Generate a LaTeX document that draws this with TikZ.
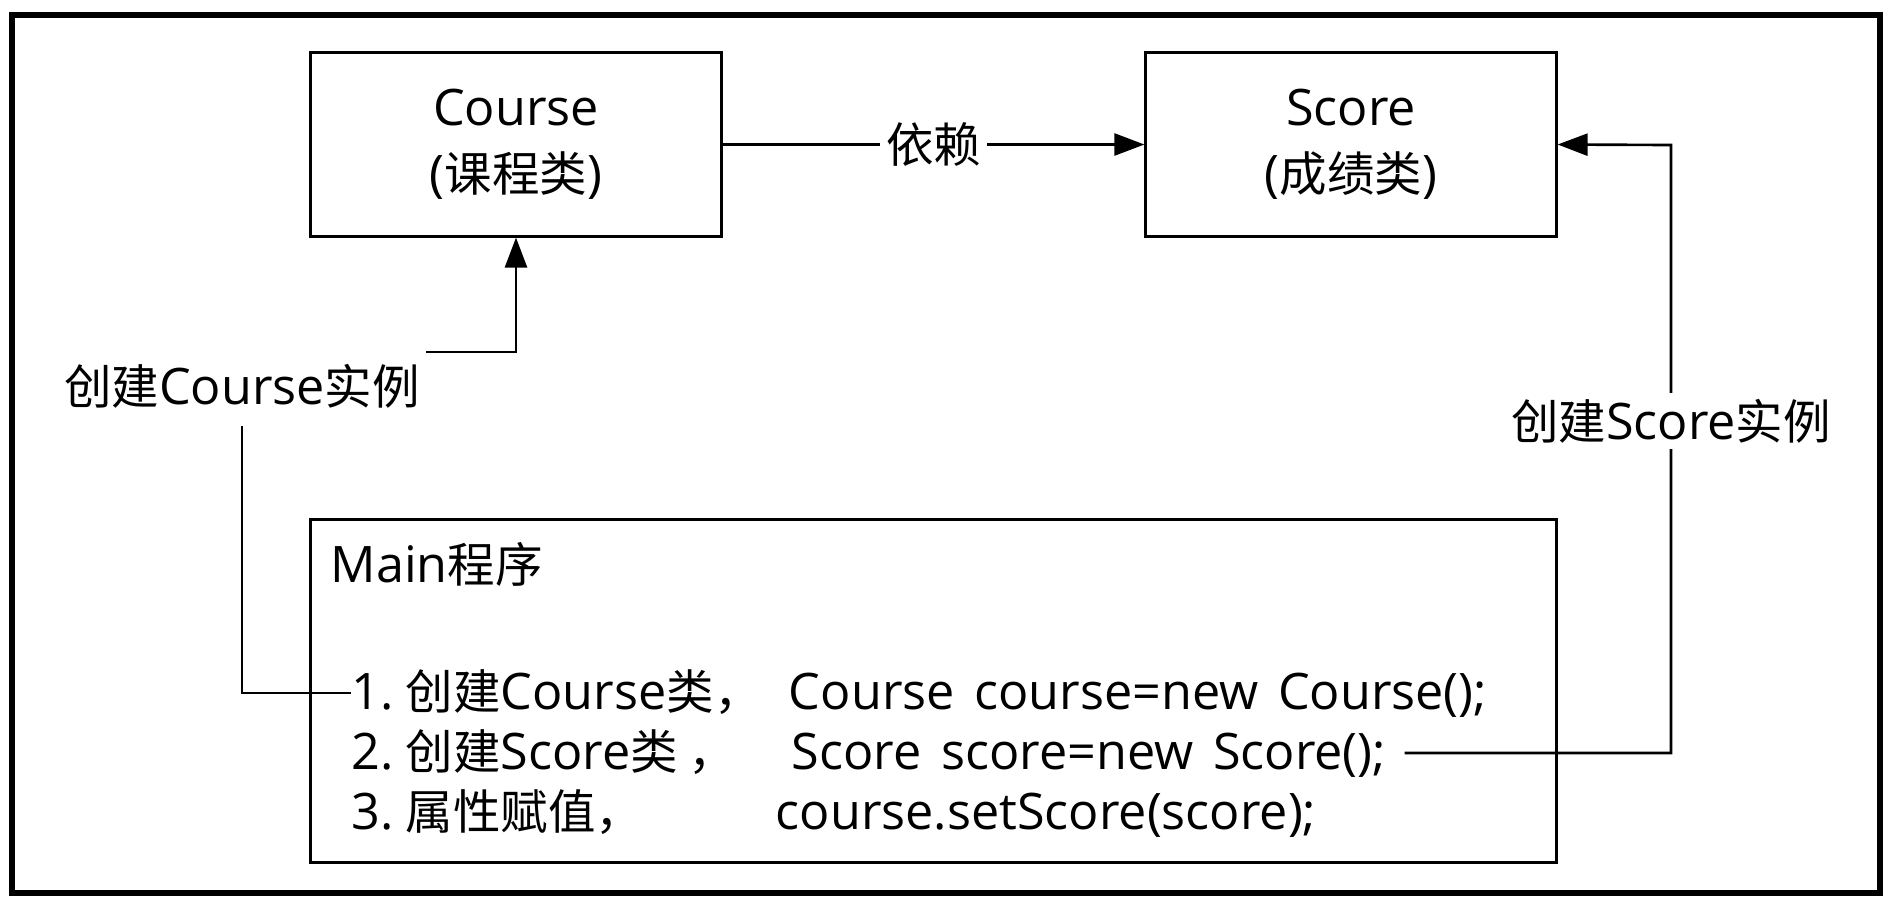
\documentclass[tikz,border=0pt]{standalone}
\usepackage{fontspec}
\setmainfont{Open Sans}[Scale=1.06, WordSpace=1.5]
\newfontfamily\zhfont{Noto Sans CJK SC}
\newcommand{\zh}[1]{{\zhfont #1}}
\usetikzlibrary{arrows.meta}

\begin{document}
\begin{tikzpicture}[x=0.01cm, y=-0.01cm,
    every node/.style={font=\fontsize{13.5}{18.8}\selectfont},
    classbox/.style={draw, line width=0.85pt, minimum width=4.1cm, minimum height=1.83cm, align=center},
    conn/.style={line width=0.75pt, -{Triangle[length=0.3cm,width=0.22cm]}},
    lbl/.style={fill=white, inner sep=0.06cm},
    codeline/.style={anchor=base west, inner sep=0pt}]
  \useasboundingbox (0,0) rectangle (1894,908);
  \draw[line width=1.7pt] (12,15) rectangle (1880,893);
  % Classes
  \node[classbox] (course) at (516,144.5) {Course\\(\zh{课程类})};
  \node[classbox] (score) at (1351,144.5) {Score\\(\zh{成绩类})};
  % Main program box
  \node[draw, line width=0.85pt, minimum width=12.45cm, minimum height=3.42cm] (main) at (933.5,691) {};
  \node[anchor=west, inner sep=0pt] (title) at (330,564) {Main\zh{程序}};
  \node[codeline] (l1) at (351,709) {\makebox[4.37cm][l]{1.\hspace{0.12cm}\zh{创建}Course\zh{类，}}Course course=new Course();};
  \node[codeline] (l2) at (351,769) {\makebox[4.40cm][l]{2.\hspace{0.12cm}\zh{创建}Score\zh{类 ，}}Score score=new Score();};
  \node[codeline] (l3) at (351,829) {\makebox[4.24cm][l]{3.\hspace{0.12cm}\zh{属性赋值，}}course.setScore(score);};
  % Bends of the two connectors
  \coordinate (cbend) at (242,352);
  \coordinate (sbend) at (1671,145);
  % Connectors
  \draw[conn] (course.east) -- node[lbl] {\zh{依赖}} (score.west);
  \draw[conn] (l1.west) -| node[lbl, pos=0.95, minimum height=0.8cm] {\zh{创建}Course\zh{实例}} (cbend) -| (course.south);
  \draw[conn] ([xshift=0.18cm]l2.east) -| node[lbl, pos=0.773] {\zh{创建}Score\zh{实例}} (sbend) -- (score.east);
\end{tikzpicture}
\end{document}
